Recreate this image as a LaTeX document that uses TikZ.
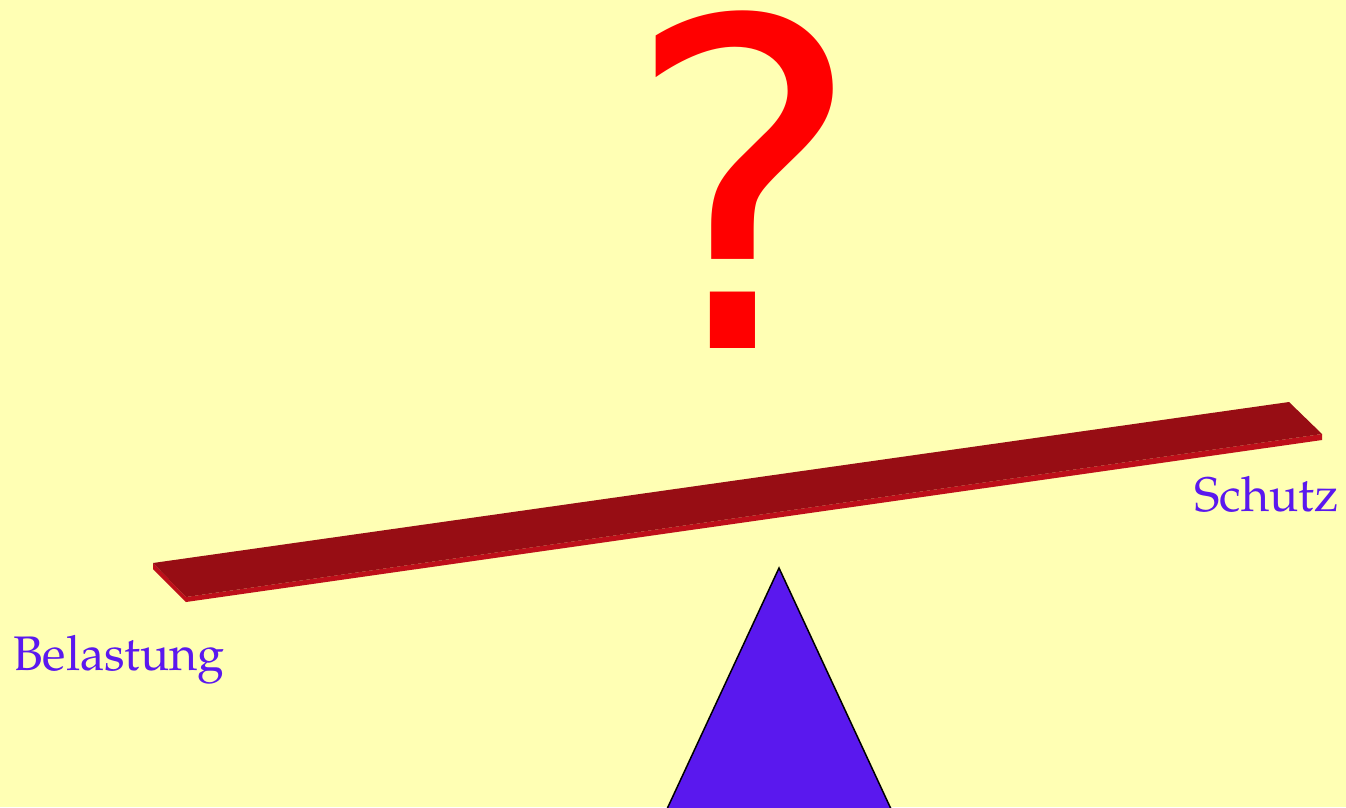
\documentclass[tikz,border=0pt]{standalone}
\usepackage{fontspec}
\newfontfamily\qfont{DejaVu Sans}
\newfontfamily\lblfont{TeX Gyre Pagella}
\definecolor{bgyellow}{HTML}{FFFFB4}
\definecolor{plankdark}{HTML}{970D14}
\definecolor{plankedge}{HTML}{BE0F1A}
\definecolor{violetblue}{HTML}{5A18EE}
\definecolor{qred}{HTML}{FF0000}
\tikzset{
  lbl/.style={text=violetblue, inner sep=0pt, font=\lblfont\fontsize{48.5}{52}\selectfont},
  qmark/.style={text=qred, inner sep=0pt, font=\qfont\fontsize{455}{460}\selectfont},
}
\begin{document}
\begin{tikzpicture}[x=1pt,y=-1pt]
\fill[bgyellow] (0,0) rectangle (1346,807);
\useasboundingbox (0,0) rectangle (1346,807);
% question mark
\node[qmark, anchor=base] (q) at (744,348) {?};
% plank
\fill[plankedge] (153,563) -- (186,597) -- (186,602) -- (153,569) -- cycle;
\fill[plankedge] (186,597) -- (1322,434) -- (1322,440) -- (186,602) -- cycle;
\fill[plankdark] (153,563) -- (1289,402) -- (1322,434) -- (186,597) -- cycle;
% fulcrum
\draw[fill=violetblue, draw=black, line width=1.5pt, line join=miter] (667,809) -- (779,568) -- (891,809);
% labels
\node[lbl, anchor=base west] (bel) at (13,670) {Belastung};
\node[lbl, anchor=base east] (sch) at (1339,511) {Schutz};
\end{tikzpicture}
\end{document}
